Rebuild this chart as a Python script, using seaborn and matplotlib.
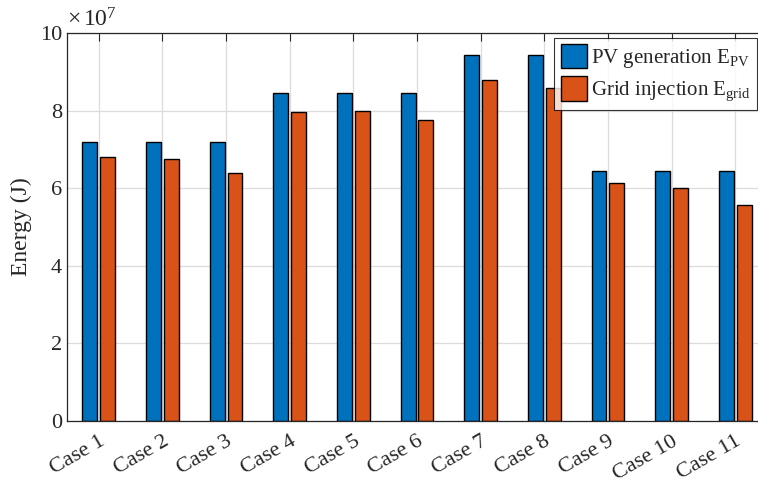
import numpy as np
import pandas as pd
import matplotlib
matplotlib.use("Agg")
import matplotlib.pyplot as plt
from matplotlib.ticker import FuncFormatter
import seaborn as sns

# data (J)
cases = ["Case 1", "Case 2", "Case 3", "Case 4", "Case 5", "Case 6",
         "Case 7", "Case 8", "Case 9", "Case 10", "Case 11"]
e_pv = [7.20e7, 7.20e7, 7.20e7, 8.45e7, 8.45e7, 8.45e7,
        9.43e7, 9.43e7, 6.44e7, 6.44e7, 6.44e7]
e_grid = [6.80e7, 6.75e7, 6.40e7, 7.97e7, 8.00e7, 7.75e7,
          8.80e7, 8.57e7, 6.13e7, 6.00e7, 5.57e7]
series = [r"PV generation E$_{\mathrm{PV}}$", r"Grid injection E$_{\mathrm{grid}}$"]

df = pd.DataFrame({
    "case": cases * 2,
    "energy": e_pv + e_grid,
    "series": [series[0]] * len(cases) + [series[1]] * len(cases),
})

sns.set_style("white")
plt.rcParams["font.family"] = ["Liberation Serif", "DejaVu Serif"]
plt.rcParams["mathtext.fontset"] = "custom"
plt.rcParams["mathtext.rm"] = "Liberation Serif"
plt.rcParams["mathtext.it"] = "Liberation Serif:italic"
plt.rcParams["mathtext.bf"] = "Liberation Serif:bold"

W, H = 758, 483
fig = plt.figure(figsize=(W / 100, H / 100), dpi=100)
ax = fig.add_axes([67 / W, (H - 421) / H, 700 / W, 388 / H])

axcol = "#262626"

sns.barplot(data=df, x="case", y="energy", hue="series", ax=ax,
            palette=["#0072BD", "#D95319"], width=0.56, gap=0.16,
            edgecolor="black", linewidth=1.0, saturation=1)

ax.grid(True, axis="both", color="#dcdcdc", linewidth=0.9)
ax.set_axisbelow(True)

ax.set_xlim(-0.5, 10.5)
ax.set_ylim(0, 1e8)
ax.set_yticks(np.arange(0, 1.01e8, 2e7))
ax.yaxis.set_major_formatter(FuncFormatter(lambda v, p: f"{v / 1e7:g}"))
ax.text(0, 1.005, r"$\times\,10^{7}$", transform=ax.transAxes,
        fontsize=17, color=axcol, ha="left", va="bottom")

ax.set_xlabel("")
ax.set_ylabel("Energy (J)", fontsize=17, color=axcol, labelpad=6)
ax.tick_params(axis="both", direction="in", length=6, width=0.8,
               labelsize=16, colors=axcol, top=True, right=True)
ax.tick_params(axis="x", pad=8)
plt.setp(ax.get_xticklabels(), rotation=30, ha="right", rotation_mode="anchor")

for s in ax.spines.values():
    s.set_color(axcol)
    s.set_linewidth(0.9)

leg = ax.legend(loc="upper right", bbox_to_anchor=(757 / W, 1 - 38 / H),
                bbox_transform=fig.transFigure, fontsize=15, frameon=True,
                fancybox=False, edgecolor="black", borderpad=0.3,
                handlelength=1.25, handleheight=1.4, handletextpad=0.2,
                labelspacing=0.3, borderaxespad=0)
leg.get_frame().set_linewidth(0.8)

fig.savefig("out.png", dpi=100)
